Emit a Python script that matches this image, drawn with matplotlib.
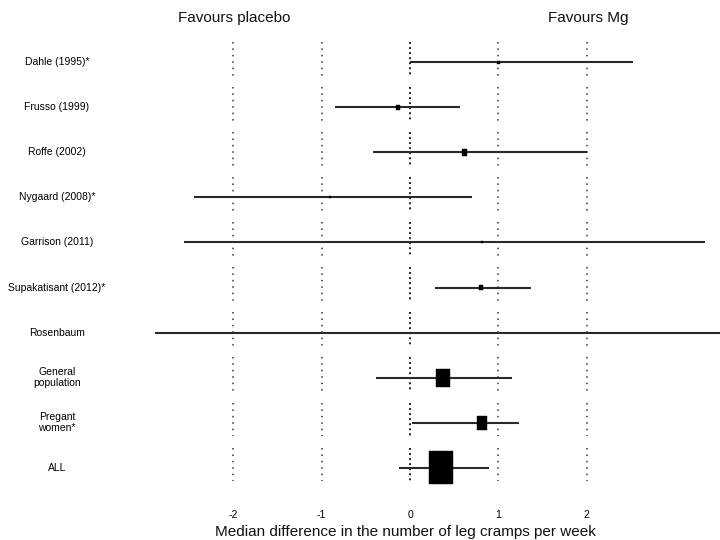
import numpy as np
import matplotlib.pyplot as plt
from matplotlib.patches import Rectangle

plt.rcParams['font.family'] = ['Liberation Sans', 'DejaVu Sans']

studies = ["Dahle (1995)*", "Frusso (1999)", "Roffe (2002)", "Nygaard (2008)*",
           "Garrison (2011)", "Supakatisant (2012)*", "Rosenbaum",
           "General\npopulation", "Pregant\nwomen*", "ALL"]
est = [1.0, -0.14, 0.62, -0.91, 0.81, 0.80, np.nan, 0.37, 0.81, 0.35]
lo = [0.0, -0.85, -0.42, -2.45, -2.56, 0.28, -2.89, -0.38, 0.02, -0.13]
hi = [2.52, 0.57, 2.0, 0.70, 3.34, 1.37, 3.6, 1.16, 1.23, 0.89]
ticks = [-2, -1, 0, 1, 2]

# marker sizes in pixels (w, h)
box_px = [(3, 3), (4, 5), (5, 7), (2, 2), (2, 2), (4, 5), (0, 0),
          (14, 18), (10, 14), (24, 33)]

px_x = 88.3   # pixels per unit on x
px_y = 45.1   # pixels per row
x0 = 410
y0 = 62

fig = plt.figure(figsize=(7.2, 5.4), dpi=100)
ax = fig.add_axes([0, 0, 1, 1])
ax.set_xlim(-x0 / px_x, (720 - x0) / px_x)
ax.set_ylim((540 - y0) / px_y, -y0 / px_y)
ax.axis('off')

n = len(studies)
# vertical dotted reference lines, broken per row
for t in ticks:
    for i in range(n):
        if t == 0:
            ax.plot([t, t], [i - 0.45, i + 0.3], color='#222222', lw=1.4,
                    linestyle=(0, (1, 1.6)), zorder=1)
        else:
            ax.plot([t, t], [i - 0.45, i + 0.3], color='#333333', lw=1.1,
                    linestyle=(0, (1, 3.2)), zorder=1)

for i in range(n):
    ax.plot([lo[i], hi[i]], [i, i], color='#2a2a2a', lw=1.5,
            solid_capstyle='butt', zorder=2)
    w, h = box_px[i]
    if not np.isnan(est[i]) and w > 0:
        w = w / px_x
        h = h / px_y
        ax.add_patch(Rectangle((est[i] - w / 2, i - h / 2), w, h,
                               facecolor='black', edgecolor='black', lw=0.3,
                               zorder=3))
    ax.text((57 - x0) / px_x, i, studies[i], ha='center', va='center',
            fontsize=7.5, color='black', linespacing=1.15)

for t in ticks:
    ax.text(t, (515 - y0) / px_y, str(t), ha='center', va='center',
            fontsize=7.5, color='black')

ax.text((234 - x0) / px_x, (18 - y0) / px_y, "Favours placebo", ha='center',
        va='center', fontsize=11, color='#111111')
ax.text((588 - x0) / px_x, (18 - y0) / px_y, "Favours Mg", ha='center',
        va='center', fontsize=11, color='#111111')
ax.text((405 - x0) / px_x, (532 - y0) / px_y,
        "Median difference in the number of leg cramps per week",
        ha='center', va='center', fontsize=11, color='#111111')

fig.savefig("out.png", dpi=100)
